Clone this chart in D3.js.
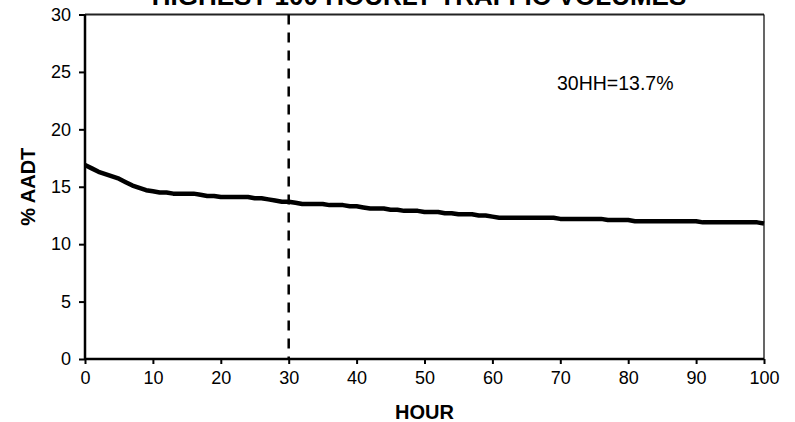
<!DOCTYPE html>
<html>
<head>
<meta charset="utf-8">
<script src="https://cdn.jsdelivr.net/npm/d3@7"></script>
<style>
  html, body { margin: 0; padding: 0; background: #fff; }
  svg { display: block; font-family: Arial, "Liberation Sans", sans-serif; }
</style>
</head>
<body>
<svg id="chart" width="795" height="422"></svg>
<script>
const title = "HIGHEST 100 HOURLY TRAFFIC VOLUMES";
const xLabel = "HOUR";
const yLabel = "% AADT";
const annotation = "30HH=13.7%";
const designHour = 30;

const hours = [
  0,1,2,3,4,5,6,7,8,9,10,11,12,13,14,15,16,17,18,19,20,
  21,22,23,24,25,26,27,28,29,30,31,32,33,34,35,36,37,38,39,40,
  41,42,43,44,45,46,47,48,49,50,51,52,53,54,55,56,57,58,59,60,
  61,62,63,64,65,66,67,68,69,70,71,72,73,74,75,76,77,78,79,80,
  81,82,83,84,85,86,87,88,89,90,91,92,93,94,95,96,97,98,99,100
];
const pctAADT = [
  16.9,16.6,16.3,16.1,15.9,15.7,15.4,15.1,14.9,14.7,14.6,14.5,14.5,14.4,14.4,14.4,14.4,14.3,14.2,14.2,14.1,
  14.1,14.1,14.1,14.1,14.0,14.0,13.9,13.8,13.7,13.7,13.6,13.5,13.5,13.5,13.5,13.4,13.4,13.4,13.3,13.3,
  13.2,13.1,13.1,13.1,13.0,13.0,12.9,12.9,12.9,12.8,12.8,12.8,12.7,12.7,12.6,12.6,12.6,12.5,12.5,12.4,
  12.3,12.3,12.3,12.3,12.3,12.3,12.3,12.3,12.3,12.2,12.2,12.2,12.2,12.2,12.2,12.2,12.1,12.1,12.1,12.1,
  12.0,12.0,12.0,12.0,12.0,12.0,12.0,12.0,12.0,12.0,11.9,11.9,11.9,11.9,11.9,11.9,11.9,11.9,11.9,11.8
];
const xTicks = [0,10,20,30,40,50,60,70,80,90,100];
const yTicks = [0,5,10,15,20,25,30];

const svg = d3.select("#chart");
const x = d3.scaleLinear().domain([0, 100]).range([85, 764]);
const y = d3.scaleLinear().domain([0, 30]).range([359, 14.5]);

// plot border (top & right)
svg.append("line").attr("x1", x(0)).attr("x2", x(100)).attr("y1", y(30)).attr("y2", y(30))
  .attr("stroke", "#222").attr("stroke-width", 2);
svg.append("line").attr("x1", x(100)).attr("x2", x(100)).attr("y1", y(30)).attr("y2", y(0))
  .attr("stroke", "#000").attr("stroke-width", 1.2);

// dashed design-hour line
svg.append("line").attr("x1", x(designHour)).attr("x2", x(designHour))
  .attr("y1", y(30)).attr("y2", y(0))
  .attr("stroke", "#000").attr("stroke-width", 2.5).attr("stroke-dasharray", "10,8");

// axes
const xAxis = svg.append("g").attr("transform", `translate(0,${y(0)})`)
  .call(d3.axisBottom(x).tickValues(xTicks).tickSize(5).tickPadding(7).tickFormat(d3.format("d")));
const yAxis = svg.append("g").attr("transform", `translate(${x(0)},0)`)
  .call(d3.axisLeft(y).tickValues(yTicks).tickSize(6).tickPadding(8).tickFormat(d3.format("d")));
[xAxis, yAxis].forEach(g => {
  g.select(".domain").attr("stroke", "#000").attr("stroke-width", 2.5);
  g.selectAll(".tick line").attr("stroke", "#000").attr("stroke-width", 2);
  g.selectAll(".tick text").attr("fill", "#000").style("font-size", "18px")
    .style("font-family", "Arial, 'Liberation Sans', sans-serif");
});
xAxis.select(".domain").attr("d", `M${x(0)},0H${x(100)}`);
yAxis.select(".domain").attr("d", `M0,${y(0)}V${y(30)}`);

// data line
const line = d3.line().x((d, i) => x(hours[i])).y(d => y(d));
svg.append("path").datum(pctAADT).attr("d", line)
  .attr("fill", "none").attr("stroke", "#000").attr("stroke-width", 4.5)
  .attr("stroke-linejoin", "round");

// texts
svg.append("text").attr("x", 419).attr("y", 5).attr("text-anchor", "middle")
  .style("font-size", "26px").style("font-weight", "bold").text(title);
svg.append("text").attr("x", x(50)).attr("y", 419).attr("text-anchor", "middle")
  .style("font-size", "20px").style("font-weight", "bold").text(xLabel);
svg.append("text").attr("transform", `translate(35,${(y(0)+y(30))/2}) rotate(-90)`)
  .attr("text-anchor", "middle").style("font-size", "20px").style("font-weight", "bold").text(yLabel);
svg.append("text").attr("x", 557).attr("y", 90).style("font-size", "19.5px").text(annotation);
</script>
</body>
</html>
